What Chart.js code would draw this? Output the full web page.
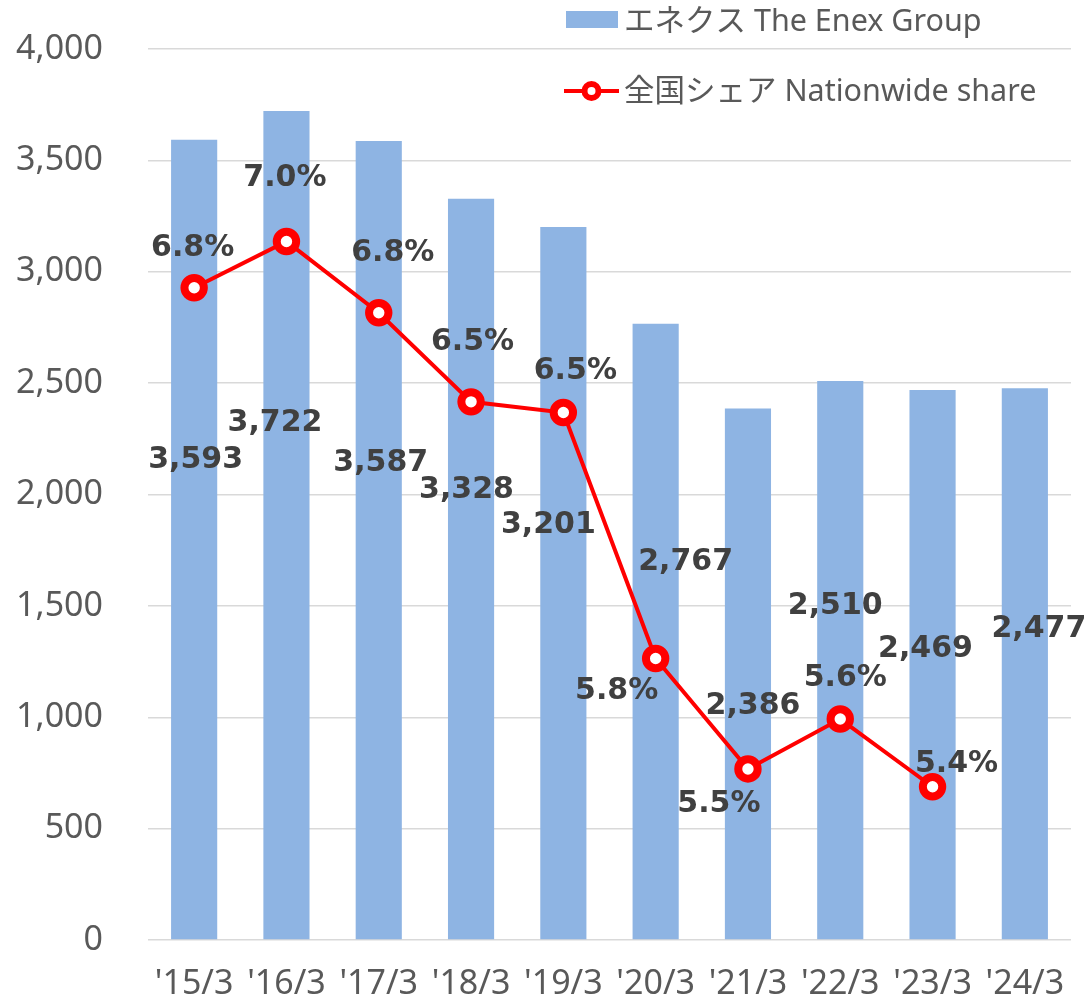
<!DOCTYPE html>
<html>
<head>
<meta charset="utf-8">
<script src="https://cdn.jsdelivr.net/npm/chart.js@4.4.1/dist/chart.umd.min.js"></script>
<style>
html, body { margin: 0; padding: 0; background: #ffffff; }
#wrap { width: 1091px; height: 1001px; position: relative; }
</style>
</head>
<body>
<div id="wrap"><canvas id="c"></canvas></div>
<script>
// ---- data ----
const categories = ["'15/3", "'16/3", "'17/3", "'18/3", "'19/3", "'20/3", "'21/3", "'22/3", "'23/3", "'24/3"];
const enexVolume = [3593, 3722, 3587, 3328, 3201, 2767, 2386, 2510, 2469, 2477];
const nationwideShare = [6.83, 6.96, 6.76, 6.51, 6.48, 5.79, 5.48, 5.62, 5.43, null];
const seriesNames = ['エネクス The Enex Group', '全国シェア Nationwide share'];
const volumeTicks = [0, 500, 1000, 1500, 2000, 2500, 3000, 3500, 4000];
const shareRange = [5.0, 7.5];

// ---- label placement (style: pixel offsets from each mark) ----
const barLabelOffsets = [[1.5, 321], [-11.5, 312], [2, 322], [-4.5, 292], [-15, 298], [30, 239], [5, 297.5], [-5, 225], [-7, 259], [14, 241]];
const shareLabelOffsets = [[-1.5, -40], [-1.5, -63], [14, -60], [1.5, -60], [12, -41], [-39, 33], [-29, 35], [5, -41], [24, -23]];

const TICK_FONT = { family: "'Noto Sans', 'Noto Sans CJK JP', sans-serif", size: 34 };
const LABEL_FONT = "bold 30px 'DejaVu Sans', 'Noto Sans', sans-serif";
const LEGEND_FONT = "30.5px 'Noto Sans', 'Noto Sans CJK JP', sans-serif";
const BAR_COLOR = '#8EB4E3';
const LINE_COLOR = '#FF0000';
const CLEAR = 'rgba(0,0,0,0)';

const valueLabels = {
  id: 'valueLabels',
  afterDatasetsDraw(chart) {
    const ctx = chart.ctx;
    ctx.save();
    ctx.font = LABEL_FONT;
    ctx.fillStyle = '#404040';
    ctx.textAlign = 'center';
    ctx.textBaseline = 'middle';
    const barMeta = chart.getDatasetMeta(1);
    barMeta.data.forEach((el, i) => {
      const v = enexVolume[i];
      const off = barLabelOffsets[i];
      ctx.fillText(v.toLocaleString('en-US'), el.x + off[0], el.y + off[1]);
    });
    const lineMeta = chart.getDatasetMeta(0);
    lineMeta.data.forEach((el, i) => {
      const v = nationwideShare[i];
      if (v === null || v === undefined) return;
      const off = shareLabelOffsets[i];
      ctx.fillText(v.toFixed(1) + '%', el.x + off[0], el.y + off[1]);
    });
    ctx.restore();
  }
};

const customLegend = {
  id: 'customLegend',
  afterDraw(chart) {
    const ctx = chart.ctx;
    ctx.save();
    ctx.fillStyle = BAR_COLOR;
    ctx.fillRect(566, 11, 52, 17);
    ctx.font = LEGEND_FONT;
    ctx.fillStyle = '#595959';
    ctx.textAlign = 'left';
    ctx.textBaseline = 'alphabetic';
    ctx.fillText(seriesNames[0], 624, 31);
    ctx.strokeStyle = LINE_COLOR;
    ctx.lineWidth = 4;
    ctx.beginPath();
    ctx.moveTo(564, 91);
    ctx.lineTo(619, 91);
    ctx.stroke();
    ctx.beginPath();
    ctx.arc(591.5, 91, 7, 0, Math.PI * 2);
    ctx.fillStyle = '#ffffff';
    ctx.fill();
    ctx.lineWidth = 6;
    ctx.stroke();
    ctx.fillStyle = '#595959';
    ctx.fillText(seriesNames[1], 624, 101);
    ctx.restore();
  }
};

new Chart(document.getElementById('c'), {
  data: {
    labels: categories,
    datasets: [
      {
        type: 'line',
        label: seriesNames[1],
        data: nationwideShare,
        yAxisID: 'y1',
        order: 0,
        borderColor: LINE_COLOR,
        borderWidth: 4,
        pointRadius: 9.7,
        pointHoverRadius: 9.7,
        pointBorderWidth: 8,
        pointBackgroundColor: '#ffffff',
        pointBorderColor: LINE_COLOR,
        tension: 0,
        spanGaps: false,
        clip: false
      },
      {
        type: 'bar',
        label: seriesNames[0],
        data: enexVolume,
        yAxisID: 'y',
        order: 1,
        backgroundColor: BAR_COLOR,
        borderWidth: 0,
        barPercentage: 0.5,
        categoryPercentage: 1.0
      }
    ]
  },
  options: {
    responsive: true,
    maintainAspectRatio: false,
    animation: false,
    events: [],
    layout: { padding: { left: 15, right: 20, top: 49, bottom: 0 } },
    plugins: {
      legend: { display: false },
      tooltip: { enabled: false },
      title: { display: false }
    },
    scales: {
      x: {
        offset: true,
        grid: { display: true, drawOnChartArea: false, drawTicks: true, tickLength: 24, tickColor: CLEAR, color: CLEAR },
        border: { display: false },
        ticks: { color: '#595959', font: TICK_FONT, padding: 0, maxRotation: 0, autoSkip: false },
        afterFit(scale) { scale.height = 61; }
      },
      y: {
        position: 'left',
        min: volumeTicks[0],
        max: volumeTicks[volumeTicks.length - 1],
        afterBuildTicks(scale) { scale.ticks = volumeTicks.map(v => ({ value: v })); },
        grid: { color: '#d9d9d9', lineWidth: 1.5, drawTicks: true, tickLength: 45, tickColor: CLEAR },
        border: { display: false },
        ticks: {
          color: '#595959',
          font: TICK_FONT,
          padding: 0,
          callback: (v) => Number(v).toLocaleString('en-US')
        },
        afterFit(scale) { scale.width = 133; }
      },
      y1: {
        display: false,
        position: 'right',
        min: shareRange[0],
        max: shareRange[1],
        grid: { display: false }
      }
    }
  },
  plugins: [valueLabels, customLegend]
});
</script>
</body>
</html>
